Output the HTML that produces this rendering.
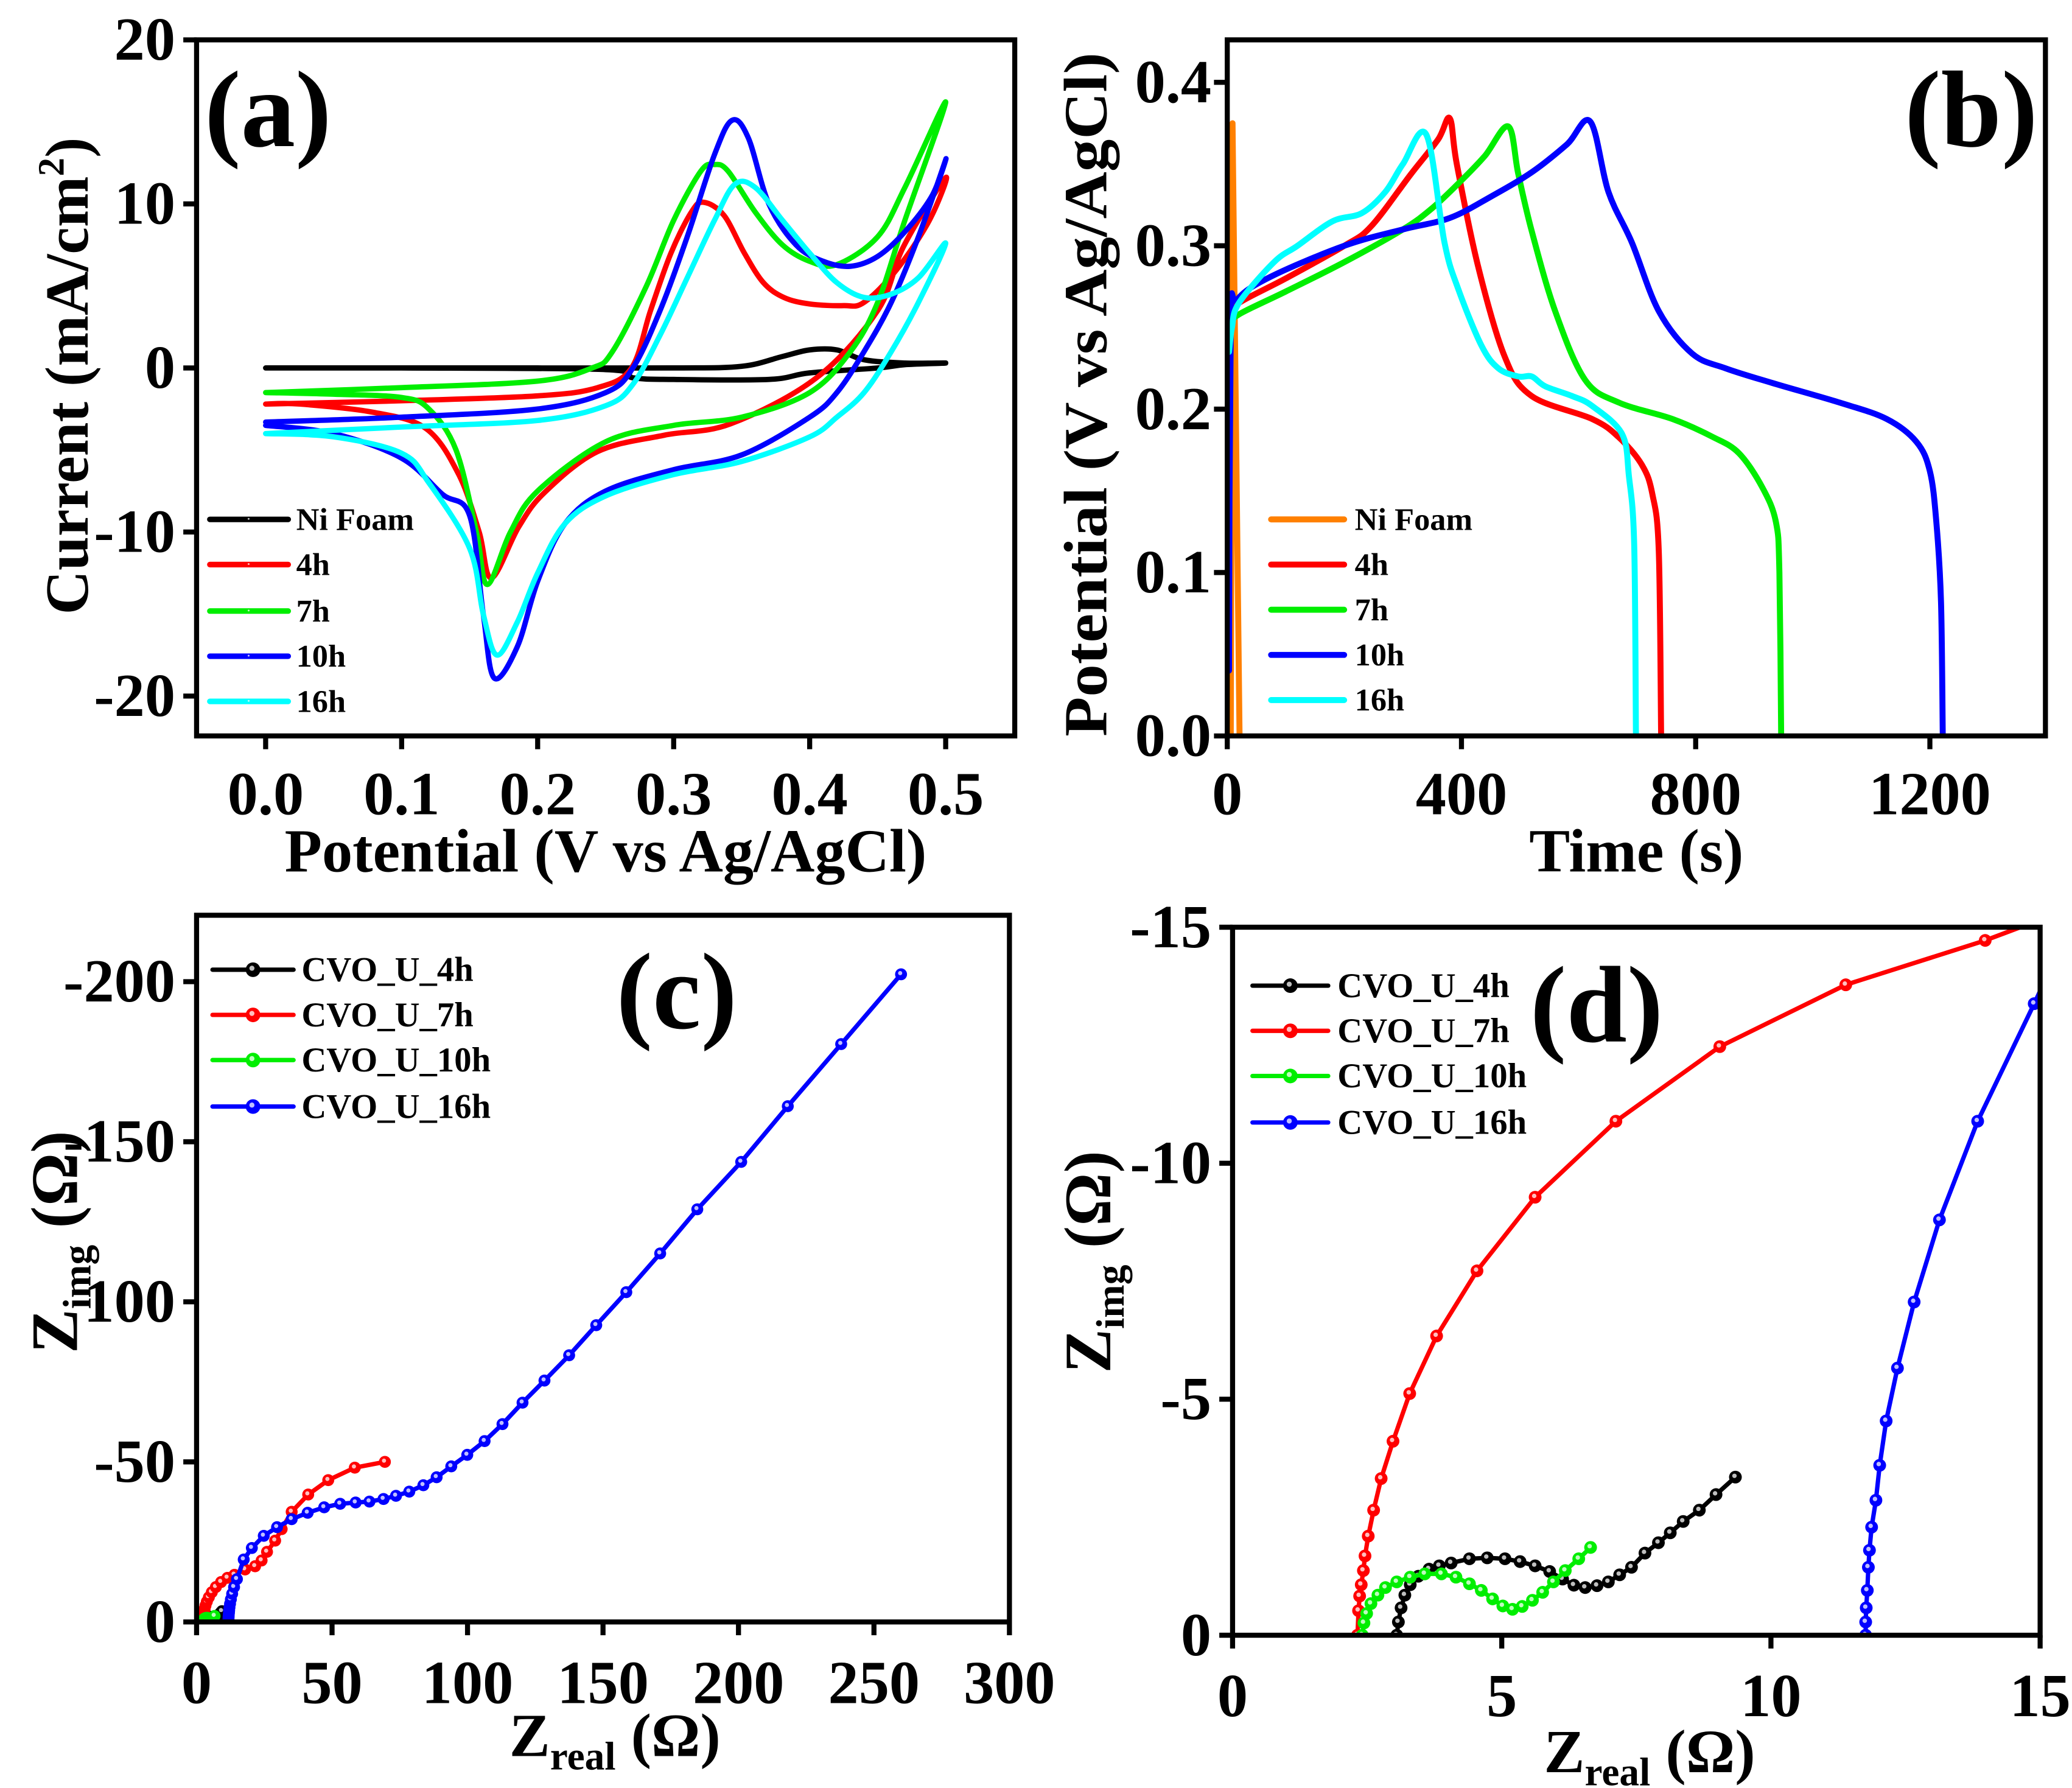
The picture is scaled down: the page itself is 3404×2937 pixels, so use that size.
<!DOCTYPE html>
<html><head><meta charset="utf-8">
<style>
html,body{margin:0;padding:0;background:#fff;}
svg{display:block;}
text{font-family:"Liberation Serif",serif;font-weight:bold;fill:#000;}
</style></head>
<body>
<svg id="fig" xmlns="http://www.w3.org/2000/svg" width="3404" height="2937" viewBox="0 0 1560 1346" preserveAspectRatio="none">
<defs>
<clipPath id="clipA"><rect x="148" y="30" width="616" height="524"/></clipPath>
<clipPath id="clipB"><rect x="924" y="30" width="616" height="524"/></clipPath>
<clipPath id="clipC"><rect x="148" y="689" width="612" height="533"/></clipPath>
<clipPath id="clipD"><rect x="928" y="698" width="608" height="533"/></clipPath>
</defs>
<g id="layer"></g>
</svg>
<script>
// ---------- Panel (a) CV data ----------
const cvTicksX = [0.0, 0.1, 0.2, 0.3, 0.4, 0.5];
const cvTickLabelsX = ["0.0", "0.1", "0.2", "0.3", "0.4", "0.5"];
const cvTicksY = [20, 10, 0, -10, -20];
const cvTickLabelsY = ["20", "10", "0", "-10", "-20"];
const cvNiV = [0,0.1,0.2,0.3,0.35,0.38,0.4,0.42,0.44,0.47,0.5,0.47,0.45,0.4,0.37,0.3,0.27,0.25,0.1,0];
const cvNiI = [0,0,0,0,0.1,0.7,1.1,1.1,0.5,0.3,0.3,0.2,0,-0.3,-0.7,-0.7,-0.6,-0.1,0,0];
const cv4hV = [0,0.1,0.2,0.244,0.269,0.283,0.298,0.313,0.322,0.337,0.352,0.366,0.381,0.4,0.425,0.44,0.464,0.488,0.5,0.469,0.45,0.405,0.342,0.293,0.244,0.205,0.186,0.166,0.157,0.142,0.118,0.079,0.025,0];
const cv4hI = [-2.2,-2.0,-1.7,-1.2,0,3.5,7,9.5,10.1,9.3,7,5.2,4.3,3.9,3.8,4.0,6,9,11.6,7.4,3.5,-0.6,-3.4,-4.1,-5.1,-7.6,-9.7,-12.8,-10,-6.5,-3.7,-2.7,-2.2,-2.2];
const cv7hV = [0,0.1,0.2,0.24,0.255,0.28,0.3,0.32,0.33,0.34,0.36,0.38,0.4,0.42,0.45,0.47,0.5,0.47,0.45,0.43,0.4,0.35,0.3,0.25,0.2,0.18,0.163,0.155,0.14,0.12,0.1,0.05,0];
const cv7hI = [-1.5,-1.2,-0.8,0,1,5,9,12,12.4,12,9.5,7.5,6.5,6.3,8,11,16.2,9,4,1,-1.5,-3,-3.5,-4.5,-7.5,-10,-13.2,-10,-5,-2.5,-1.8,-1.6,-1.5];
const cv10hV = [0,0.1,0.2,0.25,0.27,0.29,0.31,0.33,0.343,0.355,0.37,0.39,0.41,0.43,0.45,0.47,0.49,0.5,0.48,0.46,0.44,0.42,0.4,0.35,0.3,0.25,0.22,0.2,0.185,0.168,0.16,0.15,0.13,0.1,0.05,0];
const cv10hI = [-3.3,-3,-2.5,-1.5,0,3.5,8,13,15.1,14,10,7.5,6.5,6.2,6.8,8.3,10.5,12.7,8,4,1,-1.5,-3,-5.3,-6.2,-7.5,-9.5,-13,-17,-18.9,-15,-9,-7.7,-5.5,-4,-3.5];
const cv16hV = [0,0.1,0.2,0.25,0.27,0.29,0.31,0.33,0.345,0.36,0.38,0.4,0.42,0.44,0.46,0.48,0.5,0.48,0.46,0.44,0.42,0.4,0.35,0.3,0.25,0.22,0.2,0.185,0.17,0.16,0.15,0.12,0.1,0.05,0];
const cv16hI = [-4,-3.6,-3.2,-2.3,-1,2,5.5,9,11.2,11,9,7,5.2,4.3,4.5,5.5,7.6,4,1,-1.5,-3,-4.2,-5.7,-6.5,-7.8,-9.5,-12.5,-15.5,-17.5,-15,-11,-7,-5.2,-4.2,-4];

// ---------- Panel (b) GCD data ----------
const gcdTicksX = [0, 400, 800, 1200];
const gcdTickLabelsX = ["0", "400", "800", "1200"];
const gcdTicksY = [0.4, 0.3, 0.2, 0.1, 0.0];
const gcdTickLabelsY = ["0.4", "0.3", "0.2", "0.1", "0.0"];
const gcdNiT = [6, 9, 21];
const gcdNiV = [0, 0.375, 0];
const gcd4hT = [3,8,20,100,200,246,314,360,380,392,428,474,520,623,668,708,726,737,741];
const gcd4hV = [0.24,0.258,0.265,0.28,0.3,0.312,0.344,0.365,0.378,0.35,0.288,0.232,0.208,0.194,0.183,0.166,0.148,0.113,0];
const gcd7hT = [3,8,20,100,200,300,350,400,440,480,497,520,560,611,669,760,829,874,914,937,943,946];
const gcd7hV = [0.24,0.252,0.258,0.272,0.29,0.31,0.323,0.34,0.355,0.373,0.344,0.309,0.26,0.218,0.204,0.194,0.183,0.173,0.152,0.131,0.1,0];
const gcd10hT = [3,6,17,74,200,300,380,450,520,580,620,651,691,737,794,851,931,1046,1126,1177,1200,1211,1219,1222];
const gcd10hV = [0.04,0.25,0.267,0.281,0.3,0.31,0.317,0.33,0.345,0.362,0.376,0.333,0.302,0.26,0.234,0.225,0.216,0.204,0.194,0.18,0.162,0.131,0.082,0];
const gcd16hT = [3,8,20,80,120,180,230,270,300,340,371,394,434,463,497,520,543,589,623,674,686,695,698];
const gcd16hV = [0.235,0.25,0.265,0.29,0.3,0.315,0.32,0.333,0.35,0.368,0.302,0.274,0.239,0.225,0.22,0.22,0.214,0.208,0.202,0.185,0.159,0.117,0];

// ---------- Panels (c)/(d) EIS data ----------
const eisCTicksX = [0, 50, 100, 150, 200, 250, 300];
const eisCTickLabelsX = ["0", "50", "100", "150", "200", "250", "300"];
const eisCTicksY = [0, 50, 100, 150, 200];
const eisCTickLabelsY = ["0", "-50", "100", "-150", "-200"];
const eisDTicksX = [0, 5, 10, 15];
const eisDTickLabelsX = ["0", "5", "10", "15"];
const eisDTicksY = [0, 5, 10, 15];
const eisDTickLabelsY = ["0", "-5", "-10", "-15"];
const eis4hRe = [3.05,3.08,3.13,3.2,3.3,3.45,3.65,3.84,4.06,4.4,4.73,5.06,5.34,5.62,5.89,6.13,6.34,6.55,6.77,6.98,7.19,7.41,7.66,7.91,8.13,8.37,8.67,8.98,9.34];
const eis4hIm = [0,0.28,0.58,0.85,1.07,1.25,1.4,1.47,1.53,1.62,1.64,1.62,1.56,1.47,1.35,1.19,1.06,1.01,1.05,1.13,1.28,1.44,1.74,1.96,2.17,2.41,2.65,2.98,3.35];
const eis7hRe = [2.32,2.34,2.36,2.39,2.43,2.46,2.52,2.62,2.76,2.98,3.29,3.79,4.54,5.62,7.12,9.05,11.39,13.98,17.9,21.6,24,26,29,31.4,35.1,41.2,48.6,58.4,69.5];
const eis7hIm = [0,0.52,0.83,1.07,1.37,1.68,2.10,2.65,3.32,4.11,5.12,6.34,7.72,9.28,10.89,12.47,13.78,14.72,16.4,17.4,19.2,21.9,25.4,29.0,34.4,39.8,44.3,48.2,50];
const eis10hRe = [2.41,2.44,2.49,2.57,2.7,2.84,3.05,3.3,3.57,3.88,4.15,4.4,4.62,4.83,5.02,5.2,5.38,5.57,5.76,5.96,6.18,6.43,6.65];
const eis10hIm = [0,0.26,0.46,0.67,0.85,1.01,1.13,1.23,1.3,1.3,1.23,1.09,0.95,0.77,0.62,0.55,0.61,0.74,0.91,1.13,1.37,1.62,1.86];
const eis16hRe = [11.76,11.76,11.77,11.79,11.81,11.83,11.87,11.95,12.02,12.14,12.35,12.66,13.13,13.84,14.89,17.4,20.4,24.8,29.7,35.1,41.0,47.1,53.0,58.7,63.8,69.0,73.6,78.5,83.7,88.6,94.0,99.9,106.3,112.9,120.3,128.4,137.5,147.5,158.6,171.1,184.8,201.0,218.2,237.9,260];
const eis16hIm = [0,0.28,0.58,0.95,1.44,1.8,2.29,2.86,3.6,4.54,5.66,7.06,8.8,10.89,13.38,19.5,23.1,26.9,29.6,32.1,34.1,35.8,36.9,37.3,37.6,38.4,39.4,40.7,42.7,45.2,48.6,52.2,56.5,61.8,68.5,75.4,83.3,92.7,103.0,115.1,128.9,143.7,161.1,180.5,202.3];

const NS = "http://www.w3.org/2000/svg";
const layer = document.getElementById("layer");

function mk(tag, parent) {
  const e = document.createElementNS(NS, tag);
  (parent || layer).appendChild(e);
  return e;
}
function scale(d0, d1, r0, r1) { return v => r0 + (v - d0) * (r1 - r0) / (d1 - d0); }

function txt(parent, x, y, s, size, anchor, name) {
  const t = mk("text", parent);
  t.setAttribute("x", x); t.setAttribute("y", y);
  t.setAttribute("font-size", size);
  t.setAttribute("text-anchor", anchor || "start");
  
  
  t.textContent = s;
  return t;
}

function frame(g, x0, y0, x1, y1) {
  const r = mk("rect", g);
  r.setAttribute("x", x0); r.setAttribute("y", y0);
  r.setAttribute("width", x1 - x0); r.setAttribute("height", y1 - y0);
  r.setAttribute("fill", "none"); r.setAttribute("stroke", "#000"); r.setAttribute("stroke-width", 3.8);
  
  
}

function axes(g, sx, sy, x0, y0, x1, y1, tx, txl, ty, tyl, xLabY, yLabX) {
  tx.forEach((v, i) => {
    const x = sx(v);
    const l = mk("line", g);
    l.setAttribute("x1", x); l.setAttribute("x2", x); l.setAttribute("y1", y1); l.setAttribute("y2", y1 + 10);
    l.setAttribute("stroke", "#000"); l.setAttribute("stroke-width", 3.8);
    
    
    txt(g, x, xLabY, txl[i], 46, "middle", "x-tick-label");
  });
  ty.forEach((v, i) => {
    const y = sy(v);
    const l = mk("line", g);
    l.setAttribute("x1", x0 - 10); l.setAttribute("x2", x0); l.setAttribute("y1", y); l.setAttribute("y2", y);
    l.setAttribute("stroke", "#000"); l.setAttribute("stroke-width", 3.8);
    
    
    txt(g, yLabX, y + 15, tyl[i], 46, "end", "y-tick-label");
  });
}

function series(g, xs, ys, sx, sy, color, width, clip, name, smooth) {
  const p = mk("path", g);
  const pts = xs.map((v, i) => [sx(v), sy(ys[i])]);
  let d = "M" + pts[0][0].toFixed(2) + "," + pts[0][1].toFixed(2);
  for (let i = 1; i < pts.length; i++) {
    if (smooth) {
      const p0 = pts[Math.max(0, i - 2)], p1 = pts[i - 1], p2 = pts[i], p3 = pts[Math.min(pts.length - 1, i + 1)];
      const c1x = p1[0] + (p2[0] - p0[0]) / 6, c1y = p1[1] + (p2[1] - p0[1]) / 6;
      const c2x = p2[0] - (p3[0] - p1[0]) / 6, c2y = p2[1] - (p3[1] - p1[1]) / 6;
      d += "C" + c1x.toFixed(2) + "," + c1y.toFixed(2) + " " + c2x.toFixed(2) + "," + c2y.toFixed(2) + " " + p2[0].toFixed(2) + "," + p2[1].toFixed(2);
    } else {
      d += "L" + pts[i][0].toFixed(2) + "," + pts[i][1].toFixed(2);
    }
  }
  p.setAttribute("d", d);
  p.setAttribute("fill", "none"); p.setAttribute("stroke", color);
  p.setAttribute("stroke-width", width);
  p.setAttribute("stroke-linejoin", "round"); p.setAttribute("stroke-linecap", "round");
  if (clip) p.setAttribute("clip-path", "url(#" + clip + ")");
  
  
  return p;
}

function markers(g, xs, ys, sx, sy, color, r, clip, name) {
  const mg = mk("g", g);
  if (clip) mg.setAttribute("clip-path", "url(#" + clip + ")");
  
  
  xs.forEach((v, i) => {
    const c = mk("circle", mg);
    c.setAttribute("cx", sx(v)); c.setAttribute("cy", sy(ys[i])); c.setAttribute("r", r);
    c.setAttribute("fill", color);
    
    
    const h = mk("circle", mg);
    h.setAttribute("cx", sx(v) - r * 0.15); h.setAttribute("cy", sy(ys[i]) - r * 0.2); h.setAttribute("r", r * 0.35);
    h.setAttribute("fill", "#fff"); h.setAttribute("opacity", 0.75);
    
    
  });
}

function legend(g, x0, x1, ys, labels, colors, tx, size, markerR, width) {
  ys.forEach((y, i) => {
    const l = mk("line", g);
    l.setAttribute("x1", x0); l.setAttribute("x2", x1); l.setAttribute("y1", y); l.setAttribute("y2", y);
    l.setAttribute("stroke", colors[i]); l.setAttribute("stroke-width", width); l.setAttribute("stroke-linecap", "round");
    
    
    const c = mk("circle", g);
    c.setAttribute("cx", (x0 + x1) / 2); c.setAttribute("cy", y); c.setAttribute("r", markerR);
    c.setAttribute("fill", colors[i]);
    
    
    const h = mk("circle", g);
    h.setAttribute("cx", (x0 + x1) / 2 - markerR * 0.15); h.setAttribute("cy", y - markerR * 0.2); h.setAttribute("r", markerR * 0.35);
    h.setAttribute("fill", "#fff"); h.setAttribute("opacity", 0.75);
    
    
    txt(g, tx, y + size * 0.33, labels[i], size, "start", "legend-label");
  });
}

function rotTitle(g, x, y, parts, size, len, name) {
  const t = mk("text", g);
  t.setAttribute("transform", "translate(" + x + "," + y + ") rotate(-90)");
  t.setAttribute("text-anchor", "middle");
  t.setAttribute("font-size", size);
  if (len) { t.setAttribute("textLength", len); t.setAttribute("lengthAdjust", "spacingAndGlyphs"); }
  
  
  parts.forEach(p => {
    const s = mk("tspan", t);
    s.textContent = p[0];
    if (p[1]) { s.setAttribute("font-size", p[1]); }
    if (p[2]) { s.setAttribute("dy", p[2]); }
  });
  return t;
}
function hTitle(g, x, y, parts, size, name) {
  const t = mk("text", g);
  t.setAttribute("x", x); t.setAttribute("y", y);
  t.setAttribute("text-anchor", "middle");
  t.setAttribute("font-size", size);
  
  
  parts.forEach(p => {
    const s = mk("tspan", t);
    s.textContent = p[0];
    if (p[1]) { s.setAttribute("font-size", p[1]); }
    if (p[2]) { s.setAttribute("dy", p[2]); }
  });
  return t;
}

// ---------- Panel (a) ----------
(function () {
  const g = mk("g");  
  const sx = scale(0, 0.5, 200, 712), sy = scale(20, -20, 30, 524);
  series(g, cvNiV, cvNiI, sx, sy, "#000", 4, "clipA", "series-ni-foam", true);
  series(g, cv4hV, cv4hI, sx, sy, "#ff0000", 4, "clipA", "series-4h", true);
  series(g, cv7hV, cv7hI, sx, sy, "#00ee00", 4, "clipA", "series-7h", true);
  series(g, cv10hV, cv10hI, sx, sy, "#0000ff", 4, "clipA", "series-10h", true);
  series(g, cv16hV, cv16hI, sx, sy, "#00ffff", 4, "clipA", "series-16h", true);
  frame(g, 148, 30, 764, 554);
  axes(g, sx, sy, 148, 30, 764, 554, cvTicksX, cvTickLabelsX, cvTicksY, cvTickLabelsY, 613, 132);
  legend(g, 158, 217, [391, 425, 460, 494, 528], ["Ni Foam", "4h", "7h", "10h", "16h"], ["#000", "#ff0000", "#00ee00", "#0000ff", "#00ffff"], 223, 24, 2, 4.2);
  txt(g, 154, 110, "(a)", 82, "start", "panel-label-a");
  hTitle(g, 456, 656, [["Potential (V vs Ag/AgCl)"]], 46, "x-axis-title-a");
  rotTitle(g, 66, 283, [["Current (mA/cm"], ["2", 28, -18], [")", null, 18]], 46, null, "y-axis-title-a");
})();

// ---------- Panel (b) ----------
(function () {
  const g = mk("g");  
  const sx = scale(0, 1200, 924, 1453), sy = scale(0, 0.4, 554, 62);
  series(g, gcdNiT, gcdNiV, sx, sy, "#ff8000", 4.5, "clipB", "series-ni-foam", false);
  series(g, gcd4hT, gcd4hV, sx, sy, "#ff0000", 4.5, "clipB", "series-4h", true);
  series(g, gcd7hT, gcd7hV, sx, sy, "#00ee00", 4.5, "clipB", "series-7h", true);
  series(g, gcd10hT, gcd10hV, sx, sy, "#0000ff", 4.5, "clipB", "series-10h", true);
  series(g, gcd16hT, gcd16hV, sx, sy, "#00ffff", 4.5, "clipB", "series-16h", true);
  frame(g, 924, 30, 1540, 554);
  axes(g, sx, sy, 924, 30, 1540, 554, gcdTicksX, gcdTickLabelsX, gcdTicksY, gcdTickLabelsY, 613, 912);
  legend(g, 957, 1012, [391, 425, 459, 493, 527], ["Ni Foam", "4h", "7h", "10h", "16h"], ["#ff8000", "#ff0000", "#00ee00", "#0000ff", "#00ffff"], 1020, 24, 0, 4.5);
  txt(g, 1434, 110, "(b)", 82, "start", "panel-label-b");
  hTitle(g, 1232, 656, [["Time (s)"]], 46, "x-axis-title-b");
  rotTitle(g, 833, 297, [["Potential (V vs Ag/AgCl)"]], 46, 515, "y-axis-title-b");
})();

// ---------- Panel (c) ----------
(function () {
  const g = mk("g");  
  const sx = scale(0, 300, 148, 760), sy = scale(0, 200, 1221, 739);
  const sets = [[eis4hRe, eis4hIm, "#000", "4h"], [eis7hRe, eis7hIm, "#ff0000", "7h"], [eis10hRe, eis10hIm, "#00ee00", "10h"], [eis16hRe, eis16hIm, "#0000ff", "16h"]];
  sets.forEach(s => {
    series(g, s[0], s[1], sx, sy, s[2], 3.3, "clipC", "series-cvo-u-" + s[3], false);
    markers(g, s[0], s[1], sx, sy, s[2], 4.5, "clipC", "markers-cvo-u-" + s[3]);
  });
  frame(g, 148, 689, 760, 1221);
  axes(g, sx, sy, 148, 689, 760, 1221, eisCTicksX, eisCTickLabelsX, eisCTicksY, eisCTickLabelsY, 1282, 132);
  legend(g, 160, 221, [730, 764, 798, 833], ["CVO_U_4h", "CVO_U_7h", "CVO_U_10h", "CVO_U_16h"], ["#000", "#ff0000", "#00ee00", "#0000ff"], 227, 26, 5.5, 3.3);
  txt(g, 464, 774, "(c)", 82, "start", "panel-label-c");
  hTitle(g, 463, 1322, [["Z"], ["real", 30, 10], [" (Ω)", null, -10]], 46, "x-axis-title-c");
  rotTitle(g, 58, 935, [["Z"], ["img", 30, 10], [" (Ω)", null, -10]], 50, null, "y-axis-title-c");
})();

// ---------- Panel (d) ----------
(function () {
  const g = mk("g");  
  const sx = scale(0, 15, 928, 1536), sy = scale(0, 15, 1231, 698);
  const sets = [[eis4hRe, eis4hIm, "#000", "4h"], [eis7hRe, eis7hIm, "#ff0000", "7h"], [eis10hRe, eis10hIm, "#00ee00", "10h"], [eis16hRe, eis16hIm, "#0000ff", "16h"]];
  sets.forEach(s => {
    series(g, s[0], s[1], sx, sy, s[2], 3.3, "clipD", "series-cvo-u-" + s[3], false);
    markers(g, s[0], s[1], sx, sy, s[2], 4.8, "clipD", "markers-cvo-u-" + s[3]);
  });
  frame(g, 928, 698, 1536, 1231);
  axes(g, sx, sy, 928, 698, 1536, 1231, eisDTicksX, eisDTickLabelsX, eisDTicksY, eisDTickLabelsY, 1292, 912);
  legend(g, 943, 1000, [742, 776, 810, 845], ["CVO_U_4h", "CVO_U_7h", "CVO_U_10h", "CVO_U_16h"], ["#000", "#ff0000", "#00ee00", "#0000ff"], 1007, 26, 5.5, 3.3);
  txt(g, 1152, 784, "(d)", 82, "start", "panel-label-d");
  hTitle(g, 1242, 1334, [["Z"], ["real", 30, 10], [" (Ω)", null, -10]], 46, "x-axis-title-d");
  rotTitle(g, 836, 950, [["Z"], ["img", 30, 10], [" (Ω)", null, -10]], 50, null, "y-axis-title-d");
})();
</script>
</body></html>
